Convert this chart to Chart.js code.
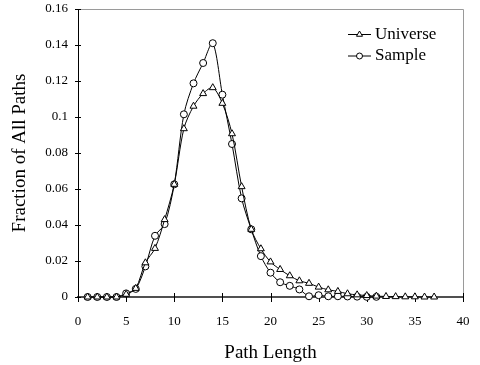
<!DOCTYPE html>
<html>
<head>
<meta charset="utf-8">
<script src="https://cdn.jsdelivr.net/npm/chart.js@4/dist/chart.umd.min.js"></script>
<style>
html,body{margin:0;padding:0;background:#fff;}
#wrap{width:480px;height:365px;}
</style>
</head>
<body>
<div id="wrap"><canvas id="c" width="480" height="365"></canvas></div>
<script>
// ---- data ----
const seriesNames = ['Universe', 'Sample'];
const universeX = [1,2,3,4,5,6,7,8,9,10,11,12,13,14,15,16,17,18,19,20,21,22,23,24,25,26,27,28,29,30,31,32,33,34,35,36,37];
const universeY = [0,0,0,0,0.0015,0.0048,0.019,0.027,0.043,0.0626,0.0935,0.106,0.113,0.1163,0.1076,0.0907,0.0613,0.0376,0.0268,0.0195,0.0153,0.0118,0.009,0.0076,0.0055,0.004,0.0031,0.0018,0.0012,0.0008,0.0005,0.0003,0.0002,0.0001,0.0001,0,0];
const sampleX = [1,2,3,4,5,6,7,8,9,10,11,12,13,14,15,16,17,18,19,20,21,22,23,24,25,26,27,28,29,30,31];
const sampleY = [0,0,0,0,0.002,0.0045,0.017,0.034,0.0405,0.0626,0.1015,0.1187,0.130,0.141,0.1124,0.085,0.0548,0.0376,0.0227,0.0135,0.0082,0.0062,0.0042,0.0004,0.001,0.0004,0.0004,0.0003,0.0002,0.0001,0.0001];
const xTickLabels = ['0','5','10','15','20','25','30','35','40'];
const yTickLabels = ['0','0.02','0.04','0.06','0.08','0.1','0.12','0.14','0.16'];
const xTitle = 'Path Length';
const yTitle = 'Fraction of All Paths';

const FONT = "'Liberation Serif', 'Times New Roman', serif";

function toPoints(xs, ys) { return xs.map((x, i) => ({x: x, y: ys[i]})); }

function markerPath(ctx, style, r, x, y) {
  ctx.beginPath();
  if (style === 'triangle') {
    let rad = 0;
    ctx.moveTo(x + Math.sin(rad) * r, y - Math.cos(rad) * r);
    rad += 2 * Math.PI / 3;
    ctx.lineTo(x + Math.sin(rad) * r, y - Math.cos(rad) * r);
    rad += 2 * Math.PI / 3;
    ctx.lineTo(x + Math.sin(rad) * r, y - Math.cos(rad) * r);
    ctx.closePath();
  } else {
    ctx.arc(x, y, r, 0, Math.PI * 2);
  }
}

const decor = {
  id: 'decor',
  beforeDatasetsDraw(chart) {
    const {ctx, chartArea: a, scales: {x, y}} = chart;
    ctx.save();
    ctx.lineWidth = 1;
    // gray frame top and right
    ctx.strokeStyle = '#9a9a9a';
    ctx.beginPath();
    ctx.moveTo(a.left, a.top + 0.5);
    ctx.lineTo(a.right + 0.5, a.top + 0.5);
    ctx.lineTo(a.right + 0.5, a.bottom);
    ctx.stroke();
    // crossing tick marks
    ctx.strokeStyle = '#000';
    y.ticks.forEach(t => {
      const py = Math.round(y.getPixelForValue(t.value)) + 0.5;
      ctx.beginPath();
      ctx.moveTo(a.left - 3, py);
      ctx.lineTo(a.left + 3, py);
      ctx.stroke();
    });
    x.ticks.forEach(t => {
      const px = Math.round(x.getPixelForValue(t.value)) + 0.5;
      ctx.beginPath();
      ctx.moveTo(px, a.bottom - 4);
      ctx.lineTo(px, a.bottom + 5);
      ctx.stroke();
    });
    ctx.restore();
  },
  afterDraw(chart) {
    const {ctx, chartArea: a} = chart;
    ctx.save();
    const x0 = a.right - 115;
    const ys = [34, 55.5];
    chart.data.datasets.forEach((ds, i) => {
      const yy = ys[i];
      ctx.strokeStyle = '#000';
      ctx.lineWidth = 1;
      ctx.beginPath();
      ctx.moveTo(x0, yy + 0.5);
      ctx.lineTo(x0 + 23, yy + 0.5);
      ctx.stroke();
      markerPath(ctx, ds.pointStyle, ds.pointStyle === 'triangle' ? 3.5 : 3, x0 + 11.5, yy + 0.5);
      ctx.fillStyle = '#fff';
      ctx.fill();
      ctx.stroke();
      ctx.fillStyle = '#000';
      ctx.font = '17px ' + FONT;
      ctx.textBaseline = 'middle';
      ctx.textAlign = 'left';
      ctx.fillText(ds.label, x0 + 27, yy + 0.5);
    });
    ctx.restore();
  }
};

new Chart(document.getElementById('c'), {
  type: 'line',
  data: {
    datasets: [
      {
        label: seriesNames[0],
        data: toPoints(universeX, universeY),
        borderColor: '#000',
        borderWidth: 1,
        pointStyle: 'triangle',
        pointRadius: 4,
        pointBackgroundColor: '#fff',
        pointBorderColor: '#000',
        pointBorderWidth: 1,
        tension: 0.3,
        clip: false
      },
      {
        label: seriesNames[1],
        data: toPoints(sampleX, sampleY),
        borderColor: '#000',
        borderWidth: 1,
        pointStyle: 'circle',
        pointRadius: 3.5,
        pointBackgroundColor: '#fff',
        pointBorderColor: '#000',
        pointBorderWidth: 1,
        tension: 0.3,
        clip: false
      }
    ]
  },
  options: {
    responsive: false,
    animation: false,
    devicePixelRatio: 1,
    layout: {padding: {left: 0, right: 17, top: 9, bottom: 0}},
    plugins: {legend: {display: false}, tooltip: {enabled: false}},
    scales: {
      x: {
        type: 'linear',
        min: 0, max: 40,
        afterFit: s => { s.height = 68; s.paddingLeft = 0; s.paddingRight = 0; },
        grid: {display: false, drawTicks: false},
        border: {display: true, color: '#505050', width: 2},
        ticks: {
          stepSize: 5,
          padding: 17,
          color: '#000',
          font: {family: FONT, size: 13},
          maxRotation: 0,
          callback: (v, i) => xTickLabels[i]
        },
        title: {
          display: true, text: xTitle, color: '#000',
          font: {family: FONT, size: 19},
          padding: {top: 0, bottom: 1}
        }
      },
      y: {
        type: 'linear',
        min: 0, max: 0.16,
        afterFit: s => { s.width = 78; s.paddingTop = 0; s.paddingBottom = 0; },
        grid: {display: false, drawTicks: false},
        border: {display: true, color: '#000', width: 1},
        ticks: {
          stepSize: 0.02,
          padding: 10,
          color: '#000',
          font: {family: FONT, size: 13},
          callback: (v, i) => yTickLabels[i]
        },
        title: {
          display: true, text: yTitle, color: '#000',
          font: {family: FONT, size: 19},
          padding: {top: 9, bottom: 0}
        }
      }
    }
  },
  plugins: [decor]
});
</script>
</body>
</html>
